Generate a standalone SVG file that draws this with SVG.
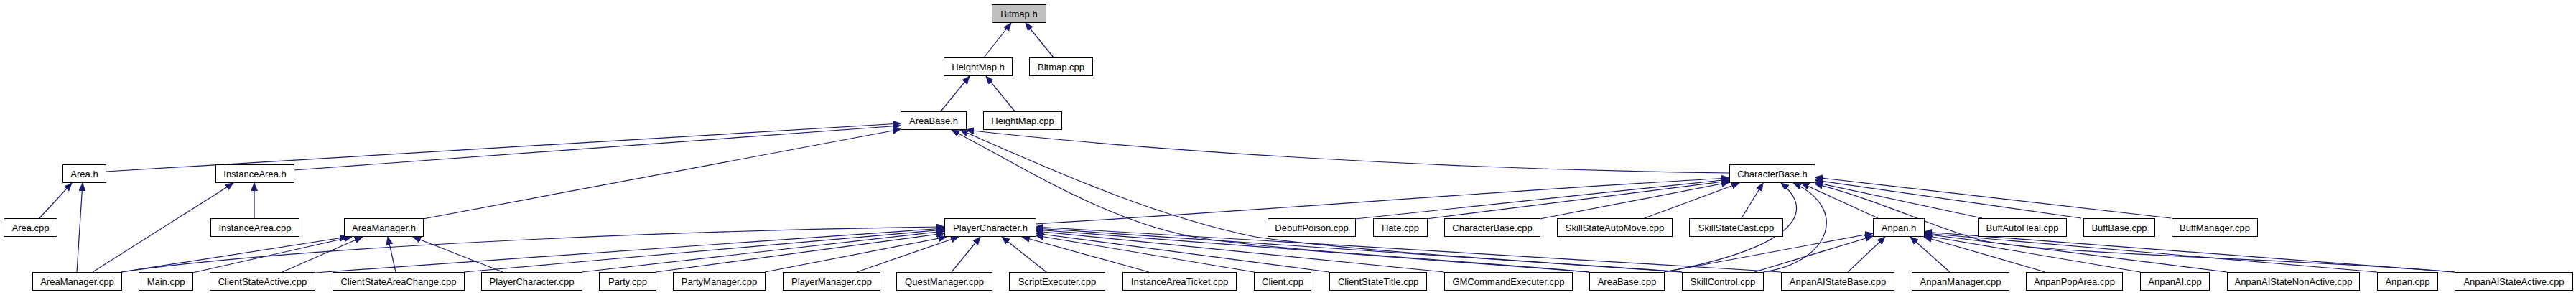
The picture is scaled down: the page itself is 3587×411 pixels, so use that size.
<svg xmlns="http://www.w3.org/2000/svg" width="3587" height="411" viewBox="0 0 3587 411">
<style>
.n rect{fill:#ffffff;stroke:#000000;stroke-width:1}
.n text{font-family:"Liberation Sans",Arial,sans-serif;font-size:13px;fill:#000000;text-anchor:middle}
.root rect{fill:#bfbfbf}
#edges path{fill:none;stroke:#191970;stroke-width:1.2;marker-end:url(#ah)}
</style>
<defs>
<marker id="ah" markerWidth="12" markerHeight="10" refX="11" refY="4.5" orient="auto" markerUnits="userSpaceOnUse"><path d="M0,0 L11,4.5 L0,9 z" fill="#191970" stroke="#191970" stroke-width="0.8"/></marker>
</defs>
<rect width="3587" height="411" fill="#ffffff"/>
<g id="edges">
<path d="M1370,80 L1408,32"/>
<path d="M1467,80 L1428,32"/>
<path d="M1310,155 L1350,106"/>
<path d="M1413,155 L1373,106"/>
<path d="M147,239 L1254,172"/>
<path d="M409,237 L1254,175"/>
<path d="M589,305 L1254,180"/>
<path d="M2408,241 C2000,236 1600,210 1345,181"/>
<path d="M2213,379 C2000,360 1800,350 1680,333 C1550,315 1420,230 1325,181"/>
<path d="M2342,379 C2200,368 1900,352 1748,330 C1600,300 1450,230 1337,181"/>
<path d="M169,379 C400,345 900,322 1315,316"/>
<path d="M438,380 L1315,318"/>
<path d="M646,379 L1315,320"/>
<path d="M810,379 L1315,322"/>
<path d="M913,379 L1315,325"/>
<path d="M1065,379 L1318,330"/>
<path d="M1193,379 L1335,330"/>
<path d="M1325,379 L1365,330"/>
<path d="M1457,379 L1395,330"/>
<path d="M1600,379 L1423,330"/>
<path d="M1746,379 L1442,328"/>
<path d="M1851,379 L1442,325"/>
<path d="M2011,379 L1442,322"/>
<path d="M2213,379 L1442,320"/>
<path d="M2342,379 L1442,318"/>
<path d="M2480,379 L1442,316"/>
<path d="M169,379 L484,330"/>
<path d="M268,380 L490,330"/>
<path d="M393,379 L505,330"/>
<path d="M551,379 L540,330"/>
<path d="M700,379 L575,330"/>
<path d="M54,305 L100,255"/>
<path d="M107,379 L115,255"/>
<path d="M129,379 L325,255"/>
<path d="M354,305 L354,255"/>
<path d="M1442,312 C1800,290 2100,265 2408,248"/>
<path d="M1887,305 L2408,250"/>
<path d="M1986,305 L2408,252"/>
<path d="M2144,305 L2408,254"/>
<path d="M2290,304 L2422,255"/>
<path d="M2425,304 L2455,255"/>
<path d="M2317,379 C2500,345 2530,295 2480,255"/>
<path d="M2455,379 C2550,365 2575,290 2497,255"/>
<path d="M2615,304 L2508,255"/>
<path d="M2760,304 L2527,254"/>
<path d="M2898,304 L2527,251"/>
<path d="M3023,304 L2527,247"/>
<path d="M3418,379 C3200,360 2850,355 2760,335 C2700,320 2620,280 2527,256"/>
<path d="M2317,379 L2608,325"/>
<path d="M2443,379 L2608,329"/>
<path d="M2573,379 L2625,330"/>
<path d="M2715,379 L2660,330"/>
<path d="M2848,379 L2679,330"/>
<path d="M2980,379 L2679,328"/>
<path d="M3101,379 L2679,326"/>
<path d="M3310,379 L2679,325"/>
<path d="M3418,379 L2679,323"/>
</g>
<g id="n_bitmap_h" class="n root"><rect x="1381.5" y="6.5" width="75" height="25"/><text x="1419" y="24">Bitmap.h</text></g>
<g id="n_heightmap_h" class="n"><rect x="1314.5" y="80.5" width="95" height="25"/><text x="1362" y="98">HeightMap.h</text></g>
<g id="n_bitmap_cpp" class="n"><rect x="1433.5" y="80.5" width="88" height="25"/><text x="1477.5" y="98">Bitmap.cpp</text></g>
<g id="n_areabase_h" class="n"><rect x="1254.5" y="155.5" width="91" height="25"/><text x="1300" y="173">AreaBase.h</text></g>
<g id="n_heightmap_cpp" class="n"><rect x="1369.5" y="155.5" width="109" height="25"/><text x="1424" y="173">HeightMap.cpp</text></g>
<g id="n_area_h" class="n"><rect x="87.5" y="229.5" width="60" height="25"/><text x="117.5" y="247">Area.h</text></g>
<g id="n_instancearea_h" class="n"><rect x="300.5" y="229.5" width="109" height="25"/><text x="355" y="247">InstanceArea.h</text></g>
<g id="n_characterbase_h" class="n"><rect x="2408.5" y="229.5" width="119" height="25"/><text x="2468" y="247">CharacterBase.h</text></g>
<g id="n_area_cpp" class="n"><rect x="5.5" y="304.5" width="74" height="25"/><text x="42.5" y="322">Area.cpp</text></g>
<g id="n_instancearea_cpp" class="n"><rect x="293.5" y="304.5" width="123" height="25"/><text x="355" y="322">InstanceArea.cpp</text></g>
<g id="n_areamanager_h" class="n"><rect x="479.5" y="304.5" width="110" height="25"/><text x="534.5" y="322">AreaManager.h</text></g>
<g id="n_playercharacter_h" class="n"><rect x="1315.5" y="304.5" width="127" height="25"/><text x="1379" y="322">PlayerCharacter.h</text></g>
<g id="n_debuffpoison_cpp" class="n"><rect x="1765.5" y="304.5" width="122" height="25"/><text x="1826.5" y="322">DebuffPoison.cpp</text></g>
<g id="n_hate_cpp" class="n"><rect x="1912.5" y="304.5" width="75" height="25"/><text x="1950" y="322">Hate.cpp</text></g>
<g id="n_characterbase_cpp" class="n"><rect x="2011.5" y="304.5" width="133" height="25"/><text x="2078" y="322">CharacterBase.cpp</text></g>
<g id="n_skillstateautomove_cpp" class="n"><rect x="2168.5" y="304.5" width="160" height="25"/><text x="2248.5" y="322">SkillStateAutoMove.cpp</text></g>
<g id="n_skillstatecast_cpp" class="n"><rect x="2352.5" y="304.5" width="130" height="25"/><text x="2417.5" y="322">SkillStateCast.cpp</text></g>
<g id="n_anpan_h" class="n"><rect x="2608.5" y="304.5" width="71" height="25"/><text x="2644" y="322">Anpan.h</text></g>
<g id="n_buffautoheal_cpp" class="n"><rect x="2754.5" y="304.5" width="123" height="25"/><text x="2816" y="322">BuffAutoHeal.cpp</text></g>
<g id="n_buffbase_cpp" class="n"><rect x="2901.5" y="304.5" width="99" height="25"/><text x="2951" y="322">BuffBase.cpp</text></g>
<g id="n_buffmanager_cpp" class="n"><rect x="3024.5" y="304.5" width="119" height="25"/><text x="3084" y="322">BuffManager.cpp</text></g>
<g id="n_areamanager_cpp" class="n"><rect x="45.5" y="379.5" width="124" height="25"/><text x="107.5" y="397">AreaManager.cpp</text></g>
<g id="n_main_cpp" class="n"><rect x="193.5" y="379.5" width="75" height="25"/><text x="231" y="397">Main.cpp</text></g>
<g id="n_clientstateactive_cpp" class="n"><rect x="292.5" y="379.5" width="146" height="25"/><text x="365.5" y="397">ClientStateActive.cpp</text></g>
<g id="n_clientstateareachange_cpp" class="n"><rect x="463.5" y="379.5" width="183" height="25"/><text x="555" y="397">ClientStateAreaChange.cpp</text></g>
<g id="n_playercharacter_cpp" class="n"><rect x="670.5" y="379.5" width="140" height="25"/><text x="740.5" y="397">PlayerCharacter.cpp</text></g>
<g id="n_party_cpp" class="n"><rect x="834.5" y="379.5" width="79" height="25"/><text x="874" y="397">Party.cpp</text></g>
<g id="n_partymanager_cpp" class="n"><rect x="937.5" y="379.5" width="128" height="25"/><text x="1001.5" y="397">PartyManager.cpp</text></g>
<g id="n_playermanager_cpp" class="n"><rect x="1090.5" y="379.5" width="135" height="25"/><text x="1158" y="397">PlayerManager.cpp</text></g>
<g id="n_questmanager_cpp" class="n"><rect x="1248.5" y="379.5" width="133" height="25"/><text x="1315" y="397">QuestManager.cpp</text></g>
<g id="n_scriptexecuter_cpp" class="n"><rect x="1405.5" y="379.5" width="133" height="25"/><text x="1472" y="397">ScriptExecuter.cpp</text></g>
<g id="n_instanceareaticket_cpp" class="n"><rect x="1563.5" y="379.5" width="158" height="25"/><text x="1642.5" y="397">InstanceAreaTicket.cpp</text></g>
<g id="n_client_cpp" class="n"><rect x="1746.5" y="379.5" width="79" height="25"/><text x="1786" y="397">Client.cpp</text></g>
<g id="n_clientstatetitle_cpp" class="n"><rect x="1851.5" y="379.5" width="135" height="25"/><text x="1919" y="397">ClientStateTitle.cpp</text></g>
<g id="n_gmcommandexecuter_cpp" class="n"><rect x="2011.5" y="379.5" width="178" height="25"/><text x="2100.5" y="397">GMCommandExecuter.cpp</text></g>
<g id="n_areabase_cpp" class="n"><rect x="2213.5" y="379.5" width="104" height="25"/><text x="2265.5" y="397">AreaBase.cpp</text></g>
<g id="n_skillcontrol_cpp" class="n"><rect x="2342.5" y="379.5" width="113" height="25"/><text x="2399" y="397">SkillControl.cpp</text></g>
<g id="n_anpanaistatebase_cpp" class="n"><rect x="2480.5" y="379.5" width="157" height="25"/><text x="2559" y="397">AnpanAIStateBase.cpp</text></g>
<g id="n_anpanmanager_cpp" class="n"><rect x="2662.5" y="379.5" width="135" height="25"/><text x="2730" y="397">AnpanManager.cpp</text></g>
<g id="n_anpanpoparea_cpp" class="n"><rect x="2821.5" y="379.5" width="134" height="25"/><text x="2888.5" y="397">AnpanPopArea.cpp</text></g>
<g id="n_anpanai_cpp" class="n"><rect x="2980.5" y="379.5" width="96" height="25"/><text x="3028.5" y="397">AnpanAI.cpp</text></g>
<g id="n_anpanaistatenonactive_cpp" class="n"><rect x="3101.5" y="379.5" width="184" height="25"/><text x="3193.5" y="397">AnpanAIStateNonActive.cpp</text></g>
<g id="n_anpan_cpp" class="n"><rect x="3310.5" y="379.5" width="84" height="25"/><text x="3352.5" y="397">Anpan.cpp</text></g>
<g id="n_anpanaistateactive_cpp" class="n"><rect x="3418.5" y="379.5" width="164" height="25"/><text x="3500.5" y="397">AnpanAIStateActive.cpp</text></g>
</svg>
